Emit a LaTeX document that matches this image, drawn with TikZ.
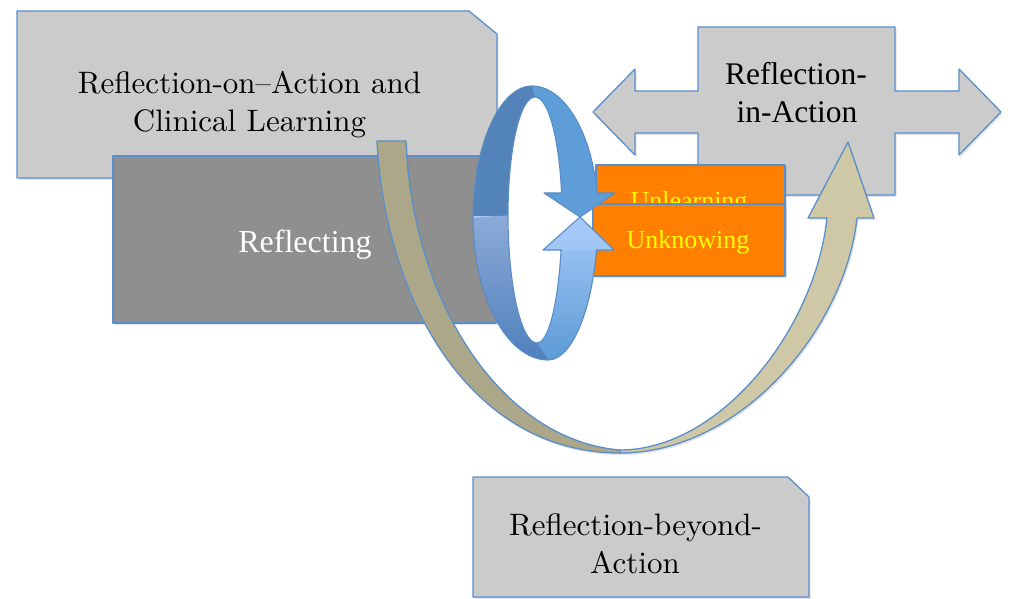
\documentclass[tikz,border=0pt]{standalone}
\usepackage{fontspec}
\newfontfamily\timesfont{Liberation Serif}
\newfontfamily\bookfont{lmroman10-regular.otf}
\usetikzlibrary{shadows}

\definecolor{panelgray}{HTML}{CBCBCB}
\definecolor{darkpanel}{HTML}{8F8F8F}
\definecolor{edgeblue}{HTML}{5B8FCB}
\definecolor{ringedge}{HTML}{5A8CC6}
\definecolor{boxorange}{HTML}{FF7F00}
\definecolor{textyellow}{HTML}{FFFF00}
\definecolor{tandark}{HTML}{ACA788}
\definecolor{tanlight}{HTML}{CEC8A6}
\definecolor{ringdark}{HTML}{5384B9}
\definecolor{ringlight}{HTML}{5F9DD9}
\definecolor{ringpale}{HTML}{A6CAF9}
\definecolor{ringmid}{HTML}{5B9BD5}
\definecolor{ringlowtop}{HTML}{8DAAD8}
\definecolor{ringlowbot}{HTML}{4F80BC}

% outline of the circular arrow and of its hole
\newcommand\RingOuter{(532,86) .. controls (568,86) and (598,144) .. (598,215)
  .. controls (598,295) and (575.5,360) .. (548,360)
  .. controls (507,360) and (473,296) .. (473,218)
  .. controls (473,145) and (500,86) .. (532,86) -- cycle}
\newcommand\RingHole{(535,97) .. controls (550,97) and (562,150) .. (562,215)
  .. controls (562,285) and (551,343) .. (537,343)
  .. controls (521,343) and (508,285) .. (508,215)
  .. controls (508,150) and (520,97) .. (535,97) -- cycle}

\begin{document}
\begin{tikzpicture}[x=1pt, y=-1pt, line join=round,
  edge/.style={draw=edgeblue, line width=1.3pt},
  softshadow/.style={drop shadow={opacity=0.22, shadow xshift=1.5pt, shadow yshift=-2pt}},
  bigserif/.style={font=\bookfont\fontsize{31}{37}\selectfont, text=black},
  timestext/.style={font=\timesfont\fontsize{31.5}{38}\selectfont, text=black},
  orangetext/.style={font=\timesfont\fontsize{26}{30}\selectfont, text=textyellow},
  ringline/.style={draw=ringedge, line width=1.1pt}]
\useasboundingbox (0,0) rectangle (1010,599);

% upper left panel
\path[edge, fill=panelgray, softshadow]
  (17,11) -- (469,11) -- (497,34) -- (497,178) -- (17,178) -- cycle;
\node[bigserif, anchor=base] (onaction1) at (249.5,94) {Reflection-on–Action and};
\node[bigserif, anchor=base] (onaction2) at (249.5,132) {Clinical Learning};

% double-headed arrow with central block
\path[edge, fill=panelgray, softshadow]
  (593,112) -- (635,69) -- (635,91) -- (698,91) -- (698,27) -- (895,27)
  -- (895,91) -- (959,91) -- (959,69) -- (1001,112) -- (959,155) -- (959,133)
  -- (895,133) -- (895,195) -- (698,195) -- (698,133) -- (635,133)
  -- (635,155) -- cycle;
\node[timestext, anchor=base] (inaction1) at (796,85) {Reflection-};
\node[timestext, anchor=base] (inaction2) at (797,123) {in-Action};

% dark panel
\path[edge, fill=darkpanel, softshadow] (113,156) rectangle (496,323);
\node[font=\timesfont\fontsize{32}{38}\selectfont, text=white, anchor=base]
  (reflecting) at (305,252) {Reflecting};

% orange labels
\path[edge, fill=boxorange, softshadow] (596,165) rectangle (785,240);
\node[orangetext, anchor=base] (unlearning) at (689,210) {Unlearning};
\path[edge, fill=boxorange, softshadow] (593,204) rectangle (785,276);
\node[orangetext, anchor=base] (unknowing) at (688,248) {Unknowing};

% large curved arrow: descending branch
\path[edge, fill=tandark, softshadow]
  (377,141) .. controls (385,300) and (470,453) .. (620,453)
  -- (620,450) .. controls (500,440) and (412,300) .. (406,141) -- cycle;
% large curved arrow: rising branch and head
\path[edge, fill=tanlight, softshadow]
  (620,453) .. controls (740,453) and (845,330) .. (857,218)
  -- (874,218) -- (848,142) -- (808,218) -- (827,218)
  .. controls (815,330) and (720,450) .. (620,450) -- cycle;

% circular arrow: upper half
\begin{scope}
  \clip (460,80) -- (620,80) -- (620,193) -- (540,193) -- (540,216) -- (460,216) -- cycle;
  \path[fill=ringlight] \RingOuter;
  \path[fill=ringdark] (473,218) .. controls (473,145) and (500,86) .. (532,86)
    -- (535,97) .. controls (520,97) and (508,150) .. (508,215) -- cycle;
\end{scope}
% circular arrow: lower half
\begin{scope}
  \clip (460,216) -- (540,216) -- (540,250) -- (620,250) -- (620,370) -- (460,370) -- cycle;
  \clip \RingOuter;
  \shade[top color=ringpale, bottom color=ringmid] (460,216) rectangle (620,361);
  \shade[top color=ringlowtop, bottom color=ringlowbot]
    (473,218) .. controls (473,296) and (507,360) .. (548,360)
    -- (537,343) .. controls (521,343) and (508,285) .. (508,215) -- cycle;
  \draw[ringedge, line width=0.6pt] (537,343) -- (548,360);
\end{scope}
\path[fill=white] \RingHole;
\begin{scope}
  \clip (460,80) -- (620,80) -- (620,193) -- (540,193) -- (540,250) -- (620,250) -- (620,370) -- (460,370) -- cycle;
  \path[ringline] \RingOuter;
  \path[ringline] \RingHole;
\end{scope}
% circular arrow: heads
\path[fill=ringlight] (544,193) -- (615,193) -- (580,217) -- cycle;
\path[ringline] (561,193) -- (544,193) -- (580,217) -- (615,193) -- (598,193);
\shade[top color=ringpale, bottom color=ringpale!92!ringmid] (543,250) -- (614,250) -- (580,217) -- cycle;
\path[ringline] (562,250) -- (543,250) -- (580,217) -- (614,250) -- (596,250);

% lower panel
\path[edge, fill=panelgray, softshadow]
  (473,597) -- (473,477) -- (788,477) -- (809,497) -- (809,597) -- cycle;
\node[bigserif, anchor=base] (beyond1) at (635.5,535) {Reflection-beyond-};
\node[bigserif, anchor=base] (beyond2) at (635,573) {Action};
\end{tikzpicture}
\end{document}
